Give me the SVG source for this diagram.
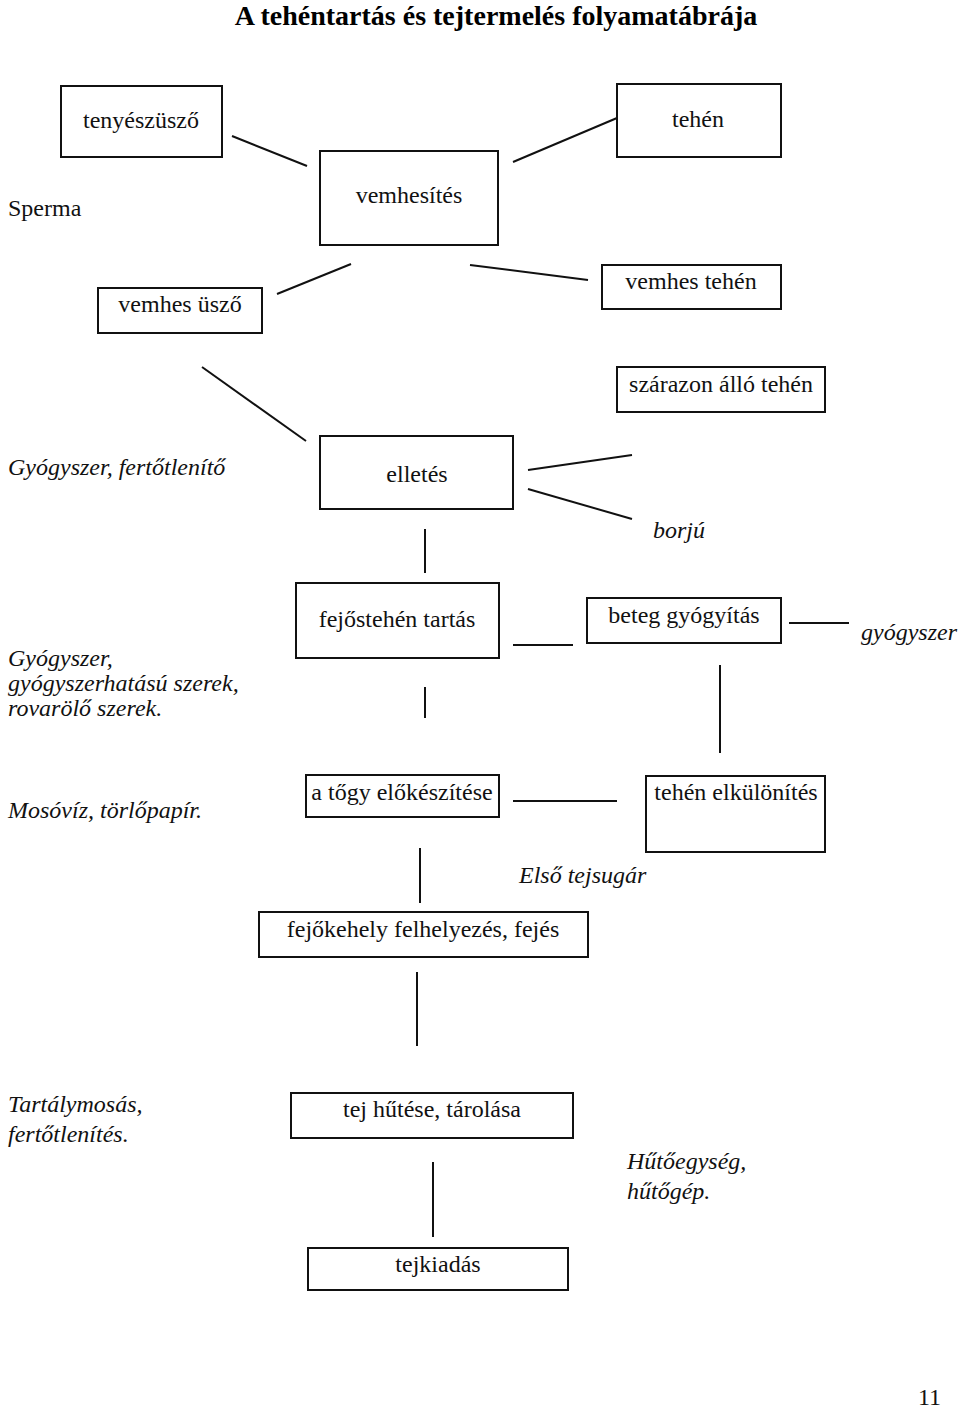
<svg xmlns="http://www.w3.org/2000/svg" width="960" height="1410" viewBox="0 0 960 1410">
<style>
.bg{fill:#fff}
.box{fill:#fff;stroke:#111;stroke-width:2}
.t{font-family:"Liberation Serif","Times New Roman",serif;font-size:24px;fill:#111;text-anchor:middle}
.l{font-family:"Liberation Serif","Times New Roman",serif;font-size:24px;fill:#111}
.i{font-style:italic}
.title{font-family:"Liberation Serif","Times New Roman",serif;font-size:28px;font-weight:bold;fill:#000;text-anchor:middle}
#connectors line{stroke:#111;stroke-width:2}
</style>
<rect class="bg" x="0" y="0" width="960" height="1410"/>
<text class="title" x="496" y="25">A tehéntartás és tejtermelés folyamatábrája</text>

<g id="connectors">
<line x1="232" y1="136" x2="307" y2="166"/>
<line x1="513" y1="162" x2="617" y2="118"/>
<line x1="277" y1="294" x2="351" y2="264"/>
<line x1="470" y1="265" x2="588" y2="280"/>
<line x1="202" y1="367" x2="306" y2="441"/>
<line x1="528" y1="470" x2="632" y2="455"/>
<line x1="528" y1="489" x2="632" y2="519"/>
<line x1="425" y1="529" x2="425" y2="573"/>
<line x1="425" y1="687" x2="425" y2="718"/>
<line x1="513" y1="645" x2="573" y2="645"/>
<line x1="789" y1="623" x2="849" y2="623"/>
<line x1="720" y1="665" x2="720" y2="753"/>
<line x1="513" y1="801" x2="617" y2="801"/>
<line x1="420" y1="848" x2="420" y2="903"/>
<line x1="417" y1="972" x2="417" y2="1046"/>
<line x1="433" y1="1162" x2="433" y2="1237"/>
</g>

<g id="tenyeszusző"><rect class="box" x="61" y="86" width="161" height="71"/><text class="t" x="141" y="128">tenyészüsző</text></g>
<g id="vemhesites"><rect class="box" x="320" y="151" width="178" height="94"/><text class="t" x="409" y="203">vemhesítés</text></g>
<g id="tehen"><rect class="box" x="617" y="84" width="164" height="73"/><text class="t" x="698" y="127">tehén</text></g>
<g id="sperma"><text class="l" x="8" y="216">Sperma</text></g>
<g id="vemhes-uszo"><rect class="box" x="98" y="288" width="164" height="45"/><text class="t" x="180" y="312">vemhes üsző</text></g>
<g id="vemhes-tehen"><rect class="box" x="602" y="265" width="179" height="44"/><text class="t" x="691" y="289">vemhes tehén</text></g>
<g id="szarazon"><rect class="box" x="617" y="367" width="208" height="45"/><text class="t" x="721" y="392">szárazon álló tehén</text></g>
<g id="gyogyszer-fertotlenito"><text class="l i" x="8" y="475">Gyógyszer, fertőtlenítő</text></g>
<g id="elletes"><rect class="box" x="320" y="436" width="193" height="73"/><text class="t" x="417" y="482">elletés</text></g>
<g id="borju"><text class="l i" x="653" y="538">borjú</text></g>
<g id="fejostehen"><rect class="box" x="296" y="583" width="203" height="75"/><text class="t" x="397" y="627">fejőstehén tartás</text></g>
<g id="beteg"><rect class="box" x="587" y="598" width="194" height="45"/><text class="t" x="684" y="623">beteg gyógyítás</text></g>
<g id="gyogyszer"><text class="l i" x="861" y="640">gyógyszer</text></g>
<g id="gyogyszer-szerek"><text class="l i" x="8" y="666">Gyógyszer,</text><text class="l i" x="8" y="691">gyógyszerhatású szerek,</text><text class="l i" x="8" y="716">rovarölő szerek.</text></g>
<g id="mosoviz"><text class="l i" x="8" y="818">Mosóvíz, törlőpapír.</text></g>
<g id="togy"><rect class="box" x="306" y="775" width="193" height="42"/><text class="t" x="402" y="800">a tőgy előkészítése</text></g>
<g id="tehen-elkulonites"><rect class="box" x="646" y="776" width="179" height="76"/><text class="t" x="736" y="800">tehén elkülönítés</text></g>
<g id="elso-tejsugar"><text class="l i" x="519" y="883">Első tejsugár</text></g>
<g id="fejokehely"><rect class="box" x="259" y="912" width="329" height="45"/><text class="t" x="423" y="937">fejőkehely felhelyezés, fejés</text></g>
<g id="tartalymosas"><text class="l i" x="8" y="1112">Tartálymosás,</text><text class="l i" x="8" y="1142">fertőtlenítés.</text></g>
<g id="tej-hutese"><rect class="box" x="291" y="1093" width="282" height="45"/><text class="t" x="432" y="1117">tej hűtése, tárolása</text></g>
<g id="hutoegyseg"><text class="l i" x="627" y="1169">Hűtőegység,</text><text class="l i" x="627" y="1199">hűtőgép.</text></g>
<g id="tejkiadas"><rect class="box" x="308" y="1248" width="260" height="42"/><text class="t" x="438" y="1272">tejkiadás</text></g>
<text class="l" x="918" y="1405">11</text>
</svg>
